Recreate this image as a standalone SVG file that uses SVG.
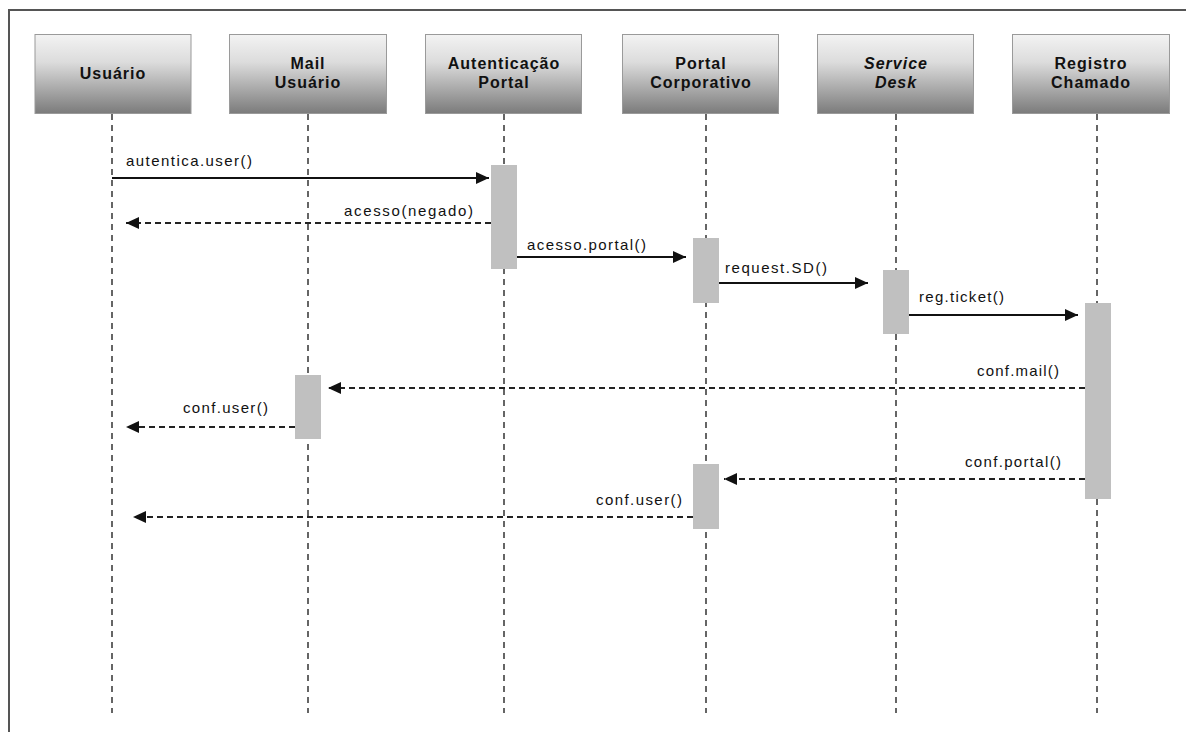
<svg xmlns="http://www.w3.org/2000/svg" width="1186" height="732" viewBox="0 0 1186 732">
<defs>
<linearGradient id="hdr" x1="0" y1="0" x2="0" y2="1">
<stop offset="0" stop-color="#f3f3f3"/>
<stop offset="0.35" stop-color="#dcdcdc"/>
<stop offset="1" stop-color="#7b7b7b"/>
</linearGradient>
<marker id="ah" markerUnits="userSpaceOnUse" markerWidth="14" markerHeight="12" refX="13" refY="6" orient="auto">
<path d="M0,0 L13,6 L0,12 z" fill="#111"/>
</marker>
</defs>
<style>
.box{fill:url(#hdr);stroke:#9a9a9a;stroke-width:1}
.ttl{font-family:"Liberation Sans",Arial,sans-serif;font-size:16px;font-weight:bold;letter-spacing:1px;fill:#111;text-anchor:middle}
.it{font-style:italic}
.life{stroke:#333;stroke-width:1.5;stroke-dasharray:6 5;fill:none}
.act{fill:#c0c0c0;stroke:none}
.msg{stroke:#111;stroke-width:2;fill:none;marker-end:url(#ah)}
.ret{stroke:#222;stroke-width:2;fill:none;stroke-dasharray:6 4;marker-end:url(#ah)}
.lbl{font-family:"Liberation Sans",Arial,sans-serif;font-size:15px;fill:#111}
.frame{stroke:#555;stroke-width:2;fill:none}
</style>
<rect width="1186" height="732" fill="#fff"/>
<path class="frame" d="M9,732 L9,10 L1186,10"/>

<g id="usuario">
<line class="life" x1="112" y1="114" x2="112" y2="713"/>
<rect class="box" x="35" y="34.5" width="156" height="79"/>
<text class="ttl" x="113" y="79">Usuário</text>
</g>
<g id="mail-usuario">
<line class="life" x1="308" y1="114" x2="308" y2="713"/>
<rect class="box" x="229.5" y="34.5" width="157" height="79"/>
<text class="ttl" x="308" y="69">Mail</text>
<text class="ttl" x="308" y="88">Usuário</text>
<rect class="act" x="295" y="375" width="26" height="64"/>
</g>
<g id="autenticacao-portal">
<line class="life" x1="504" y1="114" x2="504" y2="713"/>
<rect class="box" x="425.5" y="34.5" width="156" height="79"/>
<text class="ttl" x="504" y="69">Autenticação</text>
<text class="ttl" x="504" y="88">Portal</text>
<rect class="act" x="491" y="165" width="26" height="104"/>
</g>
<g id="portal-corporativo">
<line class="life" x1="706" y1="114" x2="706" y2="713"/>
<rect class="box" x="622.5" y="34.5" width="156" height="79"/>
<text class="ttl" x="701" y="69">Portal</text>
<text class="ttl" x="701" y="88">Corporativo</text>
<rect class="act" x="693" y="238" width="26" height="65"/>
<rect class="act" x="693" y="464" width="26" height="65"/>
</g>
<g id="service-desk">
<line class="life" x1="896" y1="114" x2="896" y2="713"/>
<rect class="box" x="817.5" y="34.5" width="156" height="79"/>
<text class="ttl it" x="896" y="69">Service</text>
<text class="ttl it" x="896" y="88">Desk</text>
<rect class="act" x="883" y="270" width="26" height="64"/>
</g>
<g id="registro-chamado">
<line class="life" x1="1097" y1="114" x2="1097" y2="713"/>
<rect class="box" x="1012.5" y="34.5" width="157" height="79"/>
<text class="ttl" x="1091" y="69">Registro</text>
<text class="ttl" x="1091" y="88">Chamado</text>
<rect class="act" x="1085" y="303" width="26" height="196"/>
</g>

<g id="connectors">
<line class="msg" x1="112" y1="178" x2="489" y2="178"/>
<text class="lbl" x="126" y="166" textLength="126" lengthAdjust="spacing">autentica.user()</text>
<line class="ret" x1="491" y1="223" x2="126" y2="223"/>
<text class="lbl" x="344" y="216" textLength="129" lengthAdjust="spacing">acesso(negado)</text>
<line class="msg" x1="517" y1="257" x2="686" y2="257"/>
<text class="lbl" x="527" y="250" textLength="119" lengthAdjust="spacing">acesso.portal()</text>
<line class="msg" x1="719" y1="283" x2="868" y2="283"/>
<text class="lbl" x="725" y="273" textLength="102" lengthAdjust="spacing">request.SD()</text>
<line class="msg" x1="909" y1="315" x2="1078" y2="315"/>
<text class="lbl" x="919" y="302" textLength="85" lengthAdjust="spacing">reg.ticket()</text>
<line class="ret" x1="1085" y1="388" x2="328" y2="388"/>
<text class="lbl" x="977" y="376" textLength="82" lengthAdjust="spacing">conf.mail()</text>
<line class="ret" x1="295" y1="427" x2="126" y2="427"/>
<text class="lbl" x="183" y="413" textLength="85" lengthAdjust="spacing">conf.user()</text>
<line class="ret" x1="1085" y1="479" x2="724" y2="479"/>
<text class="lbl" x="965" y="467" textLength="96" lengthAdjust="spacing">conf.portal()</text>
<line class="ret" x1="693" y1="517" x2="133" y2="517"/>
<text class="lbl" x="596" y="505" textLength="86" lengthAdjust="spacing">conf.user()</text>
</g>
</svg>
